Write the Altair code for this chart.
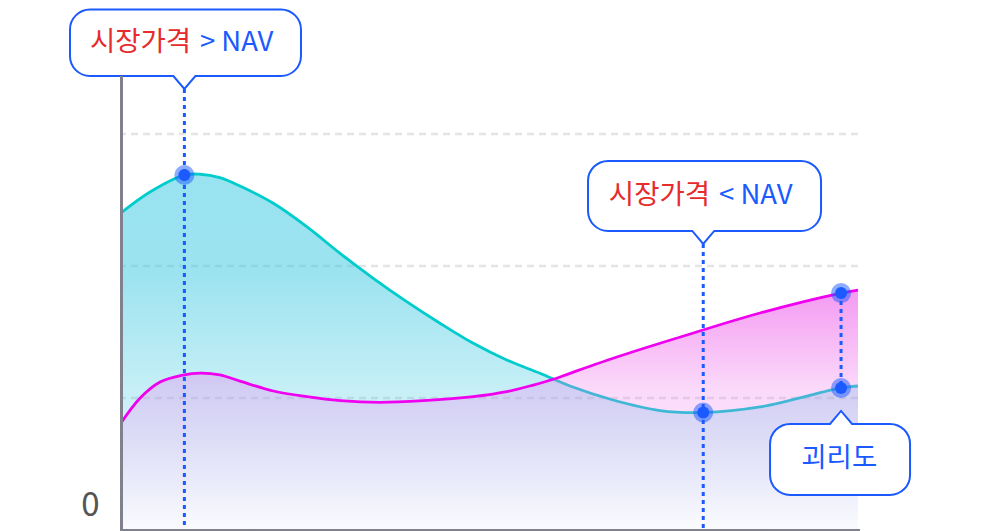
import altair as alt
import pandas as pd

# ---------------- data ----------------
# series 1: cyan curve (market price side)
x_cyan = [0, 3.93, 8.6, 10.72, 13.4, 16.15, 20.67, 25.2, 29.72, 34.23, 38.76, 43.28, 47.8, 52.33, 56.85,
          60.92, 66.76, 73.13, 79.0, 86.7, 97.7, 100]
v_cyan = [24.02, 25.61, 26.89, 26.95, 26.70, 26.06, 24.75, 22.98, 20.96, 19.07, 17.30, 15.66, 14.14, 12.88, 11.87,
          10.91, 9.85, 9.05, 8.90, 9.32, 10.76, 10.91]
# series 2: magenta curve
x_mag = [0, 2.6, 5.3, 8.4, 10.72, 13.4, 16.15, 20.67, 25.2, 29.72, 35.14, 41.04, 47.8, 52.33, 55.95,
         58.66, 60.92, 67.7, 75.9, 86.7, 97.7, 100]
v_mag = [8.11, 10.0, 11.21, 11.74, 11.89, 11.76, 11.28, 10.53, 10.10, 9.80, 9.67, 9.80, 10.10, 10.48, 10.98,
         11.42, 11.87, 13.18, 14.62, 16.44, 17.95, 18.18]

grid_values = [10, 20, 30]
y_label_values = [0]
Y_TOP = 34.318

# annotations
callout_x = [8.6, 79.0, 97.7]
callout_tip = [33.41, 21.67, 9.02]
callout_red = ["시장가격", "시장가격", ""]
callout_blue = ["> NAV", "< NAV", "괴리도"]
marker_x = [8.6, 79.0, 97.7, 97.7]
marker_series = ["cyan", "cyan", "magenta", "cyan"]

# ---------------- styles ----------------
FONT = "Noto Sans CJK KR"
BLUE = "#1a5aff"
RED = "#e52b2b"
CYAN = "#00cccc"
MAGENTA = "#ef00ef"
AXIS_GRAY = "#80818d"
FS = 27.5

cyan_df = pd.DataFrame({"x": x_cyan, "v": v_cyan})
mag_df = pd.DataFrame({"x": x_mag, "v": v_mag})
lookup = {"cyan": dict(zip(x_cyan, v_cyan)), "magenta": dict(zip(x_mag, v_mag))}

xs = alt.Scale(domain=[0, 100], nice=False, zero=False)
ys = alt.Scale(domain=[0, Y_TOP], nice=False, zero=True)
x_axis = alt.Axis(labels=False, ticks=False, grid=False, domainColor=AXIS_GRAY,
                  domainWidth=3, domainCap="square", title=None, zindex=1)
y_axis = alt.Axis(values=y_label_values, ticks=False, grid=False, domainColor=AXIS_GRAY,
                  domainWidth=3, domainCap="square", labelFontSize=33, labelColor="#555555",
                  labelFont=FONT, labelPadding=22, labelOffset=-25, labelBaseline="middle",
                  title=None, zindex=1)


def X():
    return alt.X("x:Q", scale=xs, axis=x_axis)


def Y():
    return alt.Y("v:Q", scale=ys, axis=y_axis)


cyan_grad = {
    "gradient": "linear", "x1": 0, "y1": 0, "x2": 0, "y2": 1,
    "stops": [
        {"offset": 0, "color": "rgba(60,200,225,0.52)"},
        {"offset": 0.28, "color": "rgba(60,200,225,0.51)"},
        {"offset": 0.55, "color": "rgba(60,200,225,0.33)"},
        {"offset": 1, "color": "rgba(60,200,225,0.02)"},
    ],
}
mag_grad = {
    "gradient": "linear", "x1": 0, "y1": 0, "x2": 0, "y2": 1,
    "stops": [
        {"offset": 0, "color": "rgba(240,125,238,0.78)"},
        {"offset": 0.3, "color": "rgba(240,125,238,0.42)"},
        {"offset": 0.4, "color": "rgba(240,125,238,0.30)"},
        {"offset": 1, "color": "rgba(240,125,238,0.02)"},
    ],
}

INTERP = "catmull-rom"
layers = []
layers.append(alt.Chart(pd.DataFrame({"v": grid_values})).mark_rule(
    color="#e4e4e4", strokeWidth=2.5, strokeDash=[7, 5]).encode(y=Y()))
layers.append(alt.Chart(cyan_df).mark_area(interpolate=INTERP, color=cyan_grad).encode(x=X(), y=Y()))
layers.append(alt.Chart(cyan_df).mark_line(interpolate=INTERP, color=CYAN, strokeWidth=2.8).encode(x=X(), y=Y()))
layers.append(alt.Chart(mag_df).mark_area(interpolate=INTERP, color=mag_grad).encode(x=X(), y=Y()))
layers.append(alt.Chart(mag_df).mark_line(interpolate=INTERP, color=MAGENTA, strokeWidth=2.8).encode(x=X(), y=Y()))

# dotted guide lines
rule_df = pd.DataFrame({"x": callout_x[:2], "v": callout_tip[:2]})
layers.append(alt.Chart(rule_df).mark_rule(color=BLUE, strokeWidth=3, strokeDash=[4, 4]).encode(
    x=X(), y=Y(), y2=alt.datum(0)))
gap_df = pd.DataFrame({"x": [callout_x[2]], "v": [lookup["magenta"][callout_x[2]]],
                       "v2": [lookup["cyan"][callout_x[2]]]})
layers.append(alt.Chart(gap_df).mark_rule(color=BLUE, strokeWidth=3, strokeDash=[4, 4]).encode(
    x=X(), y=Y(), y2=alt.Y2("v2:Q")))

# markers
mk_df = pd.DataFrame({"x": marker_x, "v": [lookup[s][x] for s, x in zip(marker_series, marker_x)]})
layers.append(alt.Chart(mk_df).mark_point(filled=True, size=400, color=BLUE, opacity=0.5, strokeWidth=0).encode(x=X(), y=Y()))
layers.append(alt.Chart(mk_df).mark_point(filled=True, size=144, color=BLUE, opacity=1, strokeWidth=0).encode(x=X(), y=Y()))


def callout_path(L, R, T, B, r, b, pointer):
    c = 0.5523 * r
    f = lambda v: f"{v:.2f}"
    top = [f"M {f(L + r)} {f(T)}"]
    if pointer == "up":
        top += [f"L {f(-b)} {f(T)}", "L 0 0", f"L {f(b)} {f(T)}"]
    top += [f"L {f(R - r)} {f(T)}",
            f"C {f(R - r + c)} {f(T)} {f(R)} {f(T + r - c)} {f(R)} {f(T + r)}",
            f"L {f(R)} {f(B - r)}",
            f"C {f(R)} {f(B - r + c)} {f(R - r + c)} {f(B)} {f(R - r)} {f(B)}"]
    if pointer == "down":
        top += [f"L {f(b)} {f(B)}", "L 0 0", f"L {f(-b)} {f(B)}"]
    top += [f"L {f(L + r)} {f(B)}",
            f"C {f(L + r - c)} {f(B)} {f(L)} {f(B - r + c)} {f(L)} {f(B - r)}",
            f"L {f(L)} {f(T + r)}",
            f"C {f(L)} {f(T + r - c)} {f(L + r - c)} {f(T)} {f(L + r)} {f(T)}",
            "Z"]
    return " ".join(top)


# callout geometry in pixels relative to the pointer tip
box_geom = [
    dict(L=-114.4, R=116.6, T=-79.5, B=-13, pointer="down", dy=-46.25, dx_red=6.7, dx_blue=15.5),
    dict(L=-115.2, R=117.8, T=-83, B=-13, pointer="down", dy=-48.0, dx_red=6.8, dx_blue=15.8),
    dict(L=-71, R=69, T=13, B=84, pointer="up", dy=48.5, dx_red=0, dx_blue=-1.8),
]

for i, g in enumerate(box_geom):
    row = pd.DataFrame({"x": [callout_x[i]], "v": [callout_tip[i]],
                        "red": [callout_red[i]], "blue": [callout_blue[i]]})
    path = callout_path(g["L"], g["R"], g["T"], g["B"], 20, 11, g["pointer"])
    layers.append(alt.Chart(row).mark_point(shape=path, size=4, filled=True, fill="white",
                                            stroke=BLUE, strokeWidth=2, opacity=1,
                                            fillOpacity=1, strokeOpacity=1).encode(x=X(), y=Y()))
    if callout_red[i]:
        layers.append(alt.Chart(row).mark_text(align="right", baseline="middle", dx=g["dx_red"], dy=g["dy"],
                                               font=FONT, fontSize=FS, color=RED).encode(
            x=X(), y=Y(), text="red:N"))
        layers.append(alt.Chart(row).mark_text(align="left", baseline="middle", dx=g["dx_blue"], dy=g["dy"],
                                               font=FONT, fontSize=FS, color=BLUE).encode(
            x=X(), y=Y(), text="blue:N"))
    else:
        layers.append(alt.Chart(row).mark_text(align="center", baseline="middle", dx=g["dx_blue"], dy=g["dy"],
                                               font=FONT, fontSize=FS, color=BLUE).encode(
            x=X(), y=Y(), text="blue:N"))

chart = alt.layer(*layers).properties(
    width=737, height=453,
    autosize=alt.AutoSizeParams(type="none"),
    padding={"left": 113, "top": 69, "right": 110, "bottom": 2},
    background="white",
).configure_view(strokeWidth=0)

chart.save("out.html", embed_options={"renderer": "svg", "actions": False})
